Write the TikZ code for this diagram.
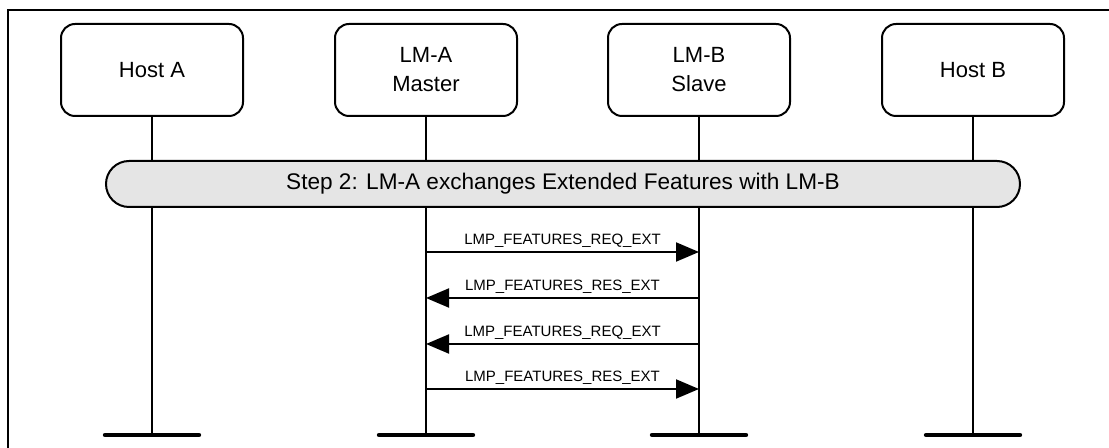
\documentclass[tikz,border=0pt]{standalone}
\usepackage{fontspec}
\setmainfont{Liberation Sans}
\usetikzlibrary{arrows.meta,positioning}

\begin{document}
\begin{tikzpicture}[x=0.5pt,y=-0.5pt,line width=1pt,
 entity/.style={draw,rounded corners=7pt,minimum width=91pt,minimum height=46pt,align=center,font=\fontsize{11}{14.5}\selectfont},
 stepbar/.style={draw,fill=black!10,rounded corners=11.5pt,minimum width=457pt,minimum height=23pt,font=\fontsize{11.3}{13}\selectfont},
 life/.style={line width=1pt},
 foot/.style={line width=2.2pt,line cap=round},
 msg/.style={-{Triangle[length=11.5pt,width=9.5pt]},line width=1pt},
 lbl/.style={font=\fontsize{7.5}{9}\selectfont,above=1pt,inner sep=1pt}]
\useasboundingbox (0,0) rectangle (1109,448);
\begin{scope}
\clip (0,0) rectangle (1109,448);
\draw (8,10) rectangle (1130,470);
\end{scope}

\node[entity] (hostA) at (152,70) {Host A};
\node[entity] (lmA) at (426,70) {LM-A\\Master};
\node[entity] (lmB) at (699,70) {LM-B\\Slave};
\node[entity] (hostB) at (973,70) {Host B};

% lifelines and their feet
\foreach \n/\x in {hostA/152,lmA/426,lmB/699,hostB/973}{
  \coordinate (\n end) at (\x,435);
  \draw[life] (\n.south) -- (\n end);
  \draw[foot] ([xshift=-23.5pt]\n end) -- ([xshift=23.5pt]\n end);
}

\node[stepbar] (step) at (563,184) {Step 2: LM-A exchanges Extended Features with LM-B};

% messages
\foreach \y [count=\i] in {252,298,344,389}{
  \coordinate (a\i) at (426,\y);
  \coordinate (b\i) at (699,\y);
}
\draw[msg] (a1) -- node[lbl]{LMP\_FEATURES\_REQ\_EXT} (b1);
\draw[msg] (b2) -- node[lbl]{LMP\_FEATURES\_RES\_EXT} (a2);
\draw[msg] (b3) -- node[lbl]{LMP\_FEATURES\_REQ\_EXT} (a3);
\draw[msg] (a4) -- node[lbl]{LMP\_FEATURES\_RES\_EXT} (b4);
\end{tikzpicture}
\end{document}
